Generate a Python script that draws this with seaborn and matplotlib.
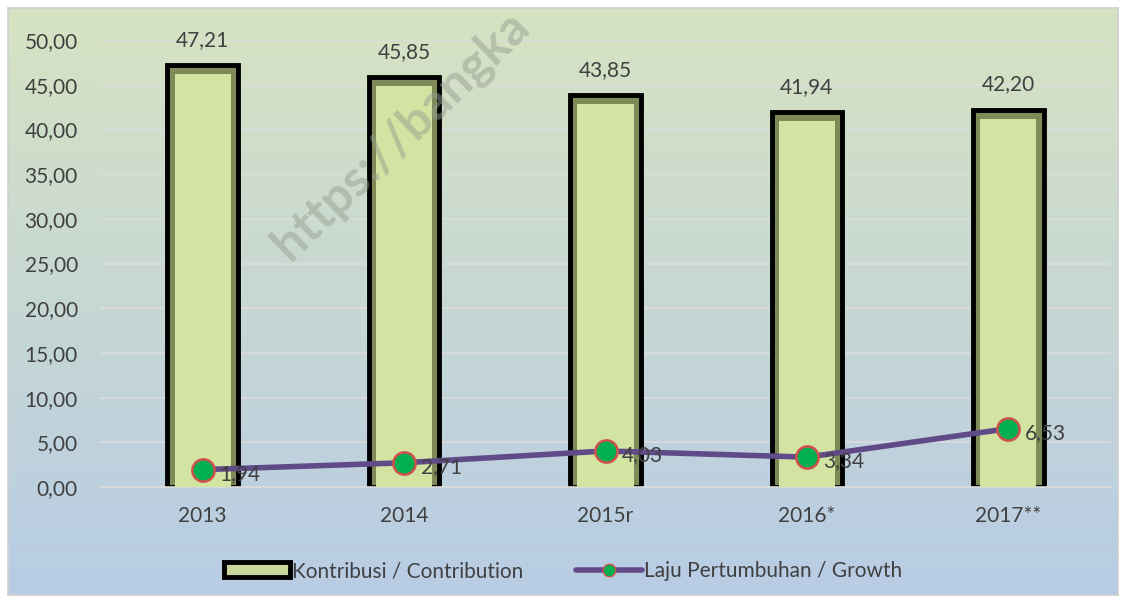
import numpy as np
import pandas as pd
import matplotlib
matplotlib.use("Agg")
import matplotlib.pyplot as plt
import seaborn as sns
from matplotlib.patches import Patch
from matplotlib.lines import Line2D

# === DATA ===
years = ["2013", "2014", "2015r", "2016*", "2017**"]
kontribusi = [47.21, 45.85, 43.85, 41.94, 42.20]
laju = [1.94, 2.71, 4.03, 3.34, 6.53]

LABEL_BAR = "Kontribusi / Contribution"
LABEL_LINE = "Laju Pertumbuhan / Growth"
WATERMARK = "https://bangka"
FS = 15


def fmt(v):
    return f"{v:.2f}".replace(".", ",")


sns.set_theme(style="white")
plt.rcParams["font.family"] = ["Lato", "DejaVu Sans"]

df = pd.DataFrame({"year": years, "kontribusi": kontribusi, "laju": laju})

fig = plt.figure(figsize=(11.26, 6.03), dpi=100)
fig.patch.set_facecolor("white")

# background gradient panel (green top -> blue bottom)
bg = fig.add_axes([8 / 1126, 8 / 603, 1110 / 1126, 587 / 603], zorder=0)
top_c = np.array([0.84, 0.89, 0.76])
bot_c = np.array([0.72, 0.80, 0.90])
t = np.linspace(0, 1, 256)[:, None]
grad = (top_c * (1 - t) + bot_c * t)[:, None, :]
bg.imshow(grad, aspect="auto", extent=[0, 1, 0, 1])
bg.set_xlim(0, 1)
bg.set_ylim(0, 1)
bg.set_xticks([])
bg.set_yticks([])
for s in bg.spines.values():
    s.set_color("#d0d0d0")
    s.set_linewidth(1.2)

ax = fig.add_axes([100 / 1126, 1 - 487 / 603, 1011 / 1126, 447 / 603], zorder=1)
ax.patch.set_alpha(0)

# bars: outer dark bevel + lighter face
sns.barplot(data=df, x="year", y="kontribusi", color="#7e8a58", width=0.35,
            edgecolor="black", linewidth=3.5, saturation=1, ax=ax, zorder=2)
df["face"] = df["kontribusi"] - 1.0
sns.barplot(data=df, x="year", y="face", color="#d3e3a2", width=0.28,
            linewidth=0, saturation=1, ax=ax, zorder=3)

# line
ax.plot(years, laju, color="#604a87", lw=4, zorder=4)
ax.plot(years, laju, ls="none", marker="o", ms=16, mfc="#00b050",
        mec="#d0504d", mew=1.8, zorder=5)

for i, v in enumerate(kontribusi):
    ax.annotate(fmt(v), (i, v), xytext=(0, 11), textcoords="offset points",
                ha="center", va="bottom", fontsize=FS, color="#404040",
                annotation_clip=False)
for i, v in enumerate(laju):
    ax.annotate(fmt(v), (i, v), xytext=(12, -3), textcoords="offset points",
                ha="left", va="center", fontsize=FS, color="#404040", zorder=6)

ax.set_xlim(-0.51, 4.51)
ax.set_ylim(0, 50)
ax.set_yticks(np.arange(0, 51, 5))
ax.set_yticklabels([fmt(v) for v in np.arange(0, 51, 5)])
ax.yaxis.grid(True, color="#dcdcdc", lw=1.2)
ax.set_axisbelow(True)
ax.tick_params(axis="both", length=0, labelsize=FS, labelcolor="#404040")
ax.tick_params(axis="y", pad=16)
ax.tick_params(axis="x", pad=14)
ax.set_xlabel("")
ax.set_ylabel("")
for side in ["top", "right", "left"]:
    ax.spines[side].set_visible(False)
ax.spines["bottom"].set_color("#dcdcdc")
ax.spines["bottom"].set_linewidth(1.2)

# watermark, semi-transparent over the bars
fig.text(290 / 1126, 1 - 262 / 603, WATERMARK, rotation=44, fontsize=36,
         fontweight="bold", color="#959f8f", alpha=0.5, ha="left",
         va="baseline", rotation_mode="anchor", zorder=10)

handles = [
    Patch(facecolor="#c9d69c", edgecolor="black", linewidth=3.5),
    Line2D([0], [0], color="#604a87", lw=4, marker="o", ms=9,
           mfc="#00b050", mec="#d0504d"),
]
fig.legend(handles, [LABEL_BAR, LABEL_LINE], loc="center",
           bbox_to_anchor=(0.5, 1 - 571 / 603), ncol=2, frameon=False,
           fontsize=FS, labelcolor="#404040", handlelength=3.2,
           handletextpad=0.1, columnspacing=2.5)

plt.savefig("out.png", dpi=100)
